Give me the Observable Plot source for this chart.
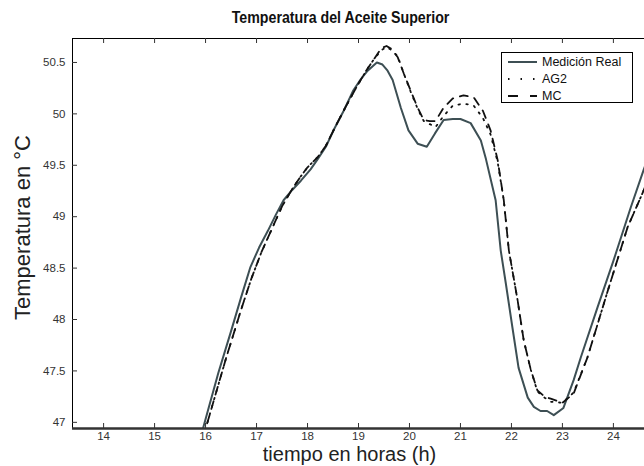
<!DOCTYPE html>
<html><head><meta charset="utf-8">
<script src="https://cdn.jsdelivr.net/npm/d3@7"></script>
<script src="https://cdn.jsdelivr.net/npm/@observablehq/plot@0.6"></script>
<style>
body{margin:0;background:#fff;font-family:"Liberation Sans",Arial,sans-serif;}
#wrap{position:relative;width:644px;height:466px;overflow:hidden;}
#title{position:absolute;left:0;top:8px;width:644px;text-align:center;padding-left:38px;box-sizing:border-box;}
#title span{display:inline-block;font-weight:bold;font-size:16.5px;color:#111;transform:scaleX(0.86);transform-origin:center;white-space:nowrap;}
#chart{position:absolute;left:0;top:30px;}
#legend{position:absolute;left:501px;top:52px;}
</style></head><body>
<div id="wrap"><div id="title"><span>Temperatura del Aceite Superior</span></div><div id="chart"></div><div id="legend"></div></div>
<script>
const seriesNames = ["Medición Real", "AG2", "MC"];
const xTicks = [14, 15, 16, 17, 18, 19, 20, 21, 22, 23, 24];
const yTicks = [47, 47.5, 48, 48.5, 49, 49.5, 50, 50.5];

const realT = [15.9,16.06,16.25,16.49,16.7,16.88,17.05,17.22,17.38,17.53,17.7,17.87,18.06,18.2,18.36,18.51,18.71,18.9,19.05,19.18,19.36,19.47,19.57,19.67,19.83,19.98,20.16,20.34,20.5,20.67,20.85,21.0,21.2,21.4,21.5,21.69,21.79,21.89,22.02,22.14,22.32,22.44,22.57,22.7,22.83,23.02,23.22,23.36,23.69,24.0,24.34,24.59,24.7];
const realV = [46.85,47.14,47.48,47.87,48.22,48.51,48.70,48.86,49.02,49.16,49.26,49.35,49.46,49.56,49.68,49.84,50.03,50.23,50.34,50.42,50.50,50.48,50.42,50.33,50.06,49.84,49.71,49.68,49.81,49.94,49.95,49.95,49.91,49.74,49.56,49.16,48.67,48.35,47.92,47.53,47.24,47.15,47.11,47.11,47.07,47.14,47.41,47.63,48.12,48.57,49.09,49.45,49.6];

const modelT = [15.95,16.16,16.4,16.7,16.9,17.1,17.3,17.5,17.7,17.85,18.0,18.2,18.36,18.55,18.75,18.95,19.15,19.3,19.45,19.55,19.65,19.77,19.89,20.02,20.16,20.28,20.4,20.51,20.67,20.85,21.06,21.26,21.44,21.59,21.73,21.85,21.95,22.12,22.24,22.38,22.51,22.65,22.77,23.0,23.22,23.49,23.89,24.28,24.59,24.7];
const mcV = [46.85,47.21,47.62,48.10,48.40,48.66,48.88,49.10,49.27,49.38,49.48,49.58,49.69,49.88,50.07,50.25,50.42,50.53,50.64,50.66,50.63,50.55,50.39,50.23,50.06,49.94,49.93,49.93,50.06,50.15,50.18,50.16,50.03,49.84,49.55,49.16,48.67,48.19,47.80,47.51,47.31,47.25,47.23,47.19,47.28,47.63,48.28,48.90,49.25,49.40];
const ag2V = [46.85,47.21,47.62,48.10,48.40,48.66,48.88,49.10,49.27,49.38,49.48,49.58,49.69,49.88,50.07,50.25,50.42,50.53,50.62,50.65,50.62,50.56,50.39,50.22,50.05,49.93,49.90,49.87,49.98,50.08,50.10,50.08,49.96,49.80,49.53,49.16,48.67,48.19,47.80,47.51,47.30,47.24,47.20,47.19,47.29,47.63,48.28,48.90,49.25,49.40];

const xDomain = [13.39, 24.61];
const yDomain = [46.94, 50.733];

const real = realT.map((t, i) => ({t, v: realV[i]}));
const mc = modelT.map((t, i) => ({t, v: mcV[i]}));
const ag2 = modelT.map((t, i) => ({t, v: ag2V[i]}));

const styles = [
  {stroke: "#3d4f54", strokeWidth: 2, dash: null},
  {stroke: "#111", strokeWidth: 1.8, dash: "1.5,6.5"},
  {stroke: "#111", strokeWidth: 1.8, dash: "8,7"}
];

const W = 644, H = 436, mT = 8, mB = 38, mL = 72, mR = 0;
const plotH = H - mT - mB, plotW = W - mL - mR, tick = 5;

const chart = Plot.plot({
  width: W, height: H, marginTop: mT, marginBottom: mB, marginLeft: mL, marginRight: mR,
  style: {fontFamily: "'Liberation Sans', Arial, sans-serif", fontSize: "12px", color: "#333", background: "#fff"},
  x: {domain: xDomain, label: null},
  y: {domain: yDomain, label: null},
  marks: [
    Plot.line(real, {x: "t", y: "v", stroke: styles[0].stroke, strokeWidth: styles[0].strokeWidth, clip: true}),
    Plot.line(ag2, {x: "t", y: "v", stroke: styles[1].stroke, strokeWidth: styles[1].strokeWidth, strokeDasharray: styles[1].dash, clip: true}),
    Plot.line(mc, {x: "t", y: "v", stroke: styles[2].stroke, strokeWidth: styles[2].strokeWidth, strokeDasharray: styles[2].dash, clip: true}),
    Plot.ruleY([yDomain[1]], {stroke: "#000", strokeWidth: 1}),
    Plot.ruleX([xDomain[0]], {stroke: "#000", strokeWidth: 1}),
    Plot.tickX(xTicks, {x: d => d, insetTop: plotH - tick, stroke: "#333"}),
    Plot.tickX(xTicks, {x: d => d, insetBottom: plotH - tick, stroke: "#333"}),
    Plot.tickY(yTicks, {y: d => d, insetRight: plotW - tick, stroke: "#333"}),
    Plot.ruleY([yDomain[0]], {stroke: "#333", strokeWidth: 2.5}),
    Plot.axisX(xTicks, {tickSize: 0, tickPadding: 3, fontSize: 11.5, fill: "#333", label: null, tickFormat: d => String(d)}),
    Plot.axisY(yTicks, {tickSize: 0, tickPadding: 7, fontSize: 11.5, fill: "#333", label: null, tickFormat: d => String(d)}),
    Plot.text(["Temperatura en °C"], {frameAnchor: "left", textAnchor: "middle", lineAnchor: "middle", rotate: -90, dx: -50, dy: -6, fontSize: 22, fill: "#222"}),
    Plot.text(["tiempo en horas (h)"], {frameAnchor: "bottom", textAnchor: "middle", lineAnchor: "top", dx: -9, dy: 18, fontSize: 20, fill: "#222"})
  ]
});
document.getElementById("chart").appendChild(chart);

// legend
const lg = d3.select("#legend").append("svg").attr("width", 133).attr("height", 52);
lg.append("rect").attr("x", 0.5).attr("y", 0.5).attr("width", 131).attr("height", 50)
  .attr("fill", "#fff").attr("stroke", "#000");
seriesNames.forEach((name, i) => {
  const cy = 10 + i * 17;
  lg.append("line").attr("x1", 7).attr("x2", 36).attr("y1", cy).attr("y2", cy)
    .attr("stroke", styles[i].stroke).attr("stroke-width", styles[i].strokeWidth)
    .attr("stroke-dasharray", i === 1 ? "1.5,11" : i === 2 ? "10,12" : null);
  lg.append("text").attr("x", 41).attr("y", cy).attr("dy", "0.35em")
    .attr("font-size", 12.5).attr("fill", "#111").attr("font-family", "'Liberation Sans', Arial, sans-serif")
    .text(name);
});
</script>
</body></html>
